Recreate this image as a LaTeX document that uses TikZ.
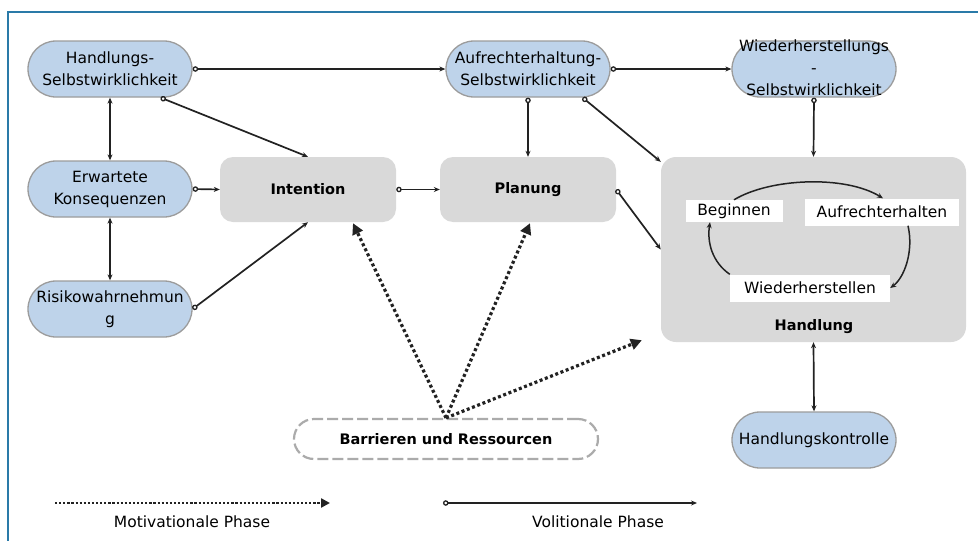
\documentclass[tikz,border=0pt]{standalone}
\usepackage{fontspec}
\setmainfont{DejaVu Sans}
\usetikzlibrary{arrows.meta,calc}
\definecolor{bluefill}{HTML}{BED3EA}
\definecolor{bordgray}{HTML}{9C9C9C}
\definecolor{boxgray}{HTML}{D9D9D9}
\definecolor{dashgray}{HTML}{ABABAB}
\definecolor{linec}{HTML}{222222}
\definecolor{framec}{HTML}{2A7AA8}
\newcommand{\mfs}{\fontsize{15.5}{22}\selectfont}
\newcommand{\mbf}{\fontsize{14.5}{20}\selectfont\bfseries}
\begin{document}
\begin{tikzpicture}[x=1pt,y=-1pt,
  bluebox/.style={draw=bordgray, line width=1.3pt, fill=bluefill, rounded corners=28pt,
    minimum width=164pt, minimum height=56pt, inner sep=0pt, align=center, font=\mfs},
  graybox/.style={fill=boxgray, rounded corners=13pt, minimum width=176pt,
    minimum height=65pt, inner sep=0pt, font=\mbf},
  whitelab/.style={fill=white, inner sep=0pt, font=\mfs},
  conn/.style={draw=linec, line width=1.7pt,
    {Circle[open,length=5.5pt,width=5.5pt,line width=1.3pt]}-{Stealth[length=6pt,width=5pt]}},
  biconn/.style={draw=linec, line width=1.7pt,
    {Stealth[length=6pt,width=5pt]}-{Stealth[length=6pt,width=5pt]}},
  cyc/.style={draw=linec, line width=1.5pt, -{Stealth[length=6pt,width=5pt]}},
  dotconn/.style={draw=linec, line width=3.2pt, dash pattern=on 3pt off 2.6pt,
    -{Triangle[length=11pt,width=11pt]}}
]
\useasboundingbox (0,0) rectangle (978,541);
\fill[white] (0,0) rectangle (978,541);
\draw[framec, line width=1.5pt] (8,541) -- (8,12) -- (978,12);

% blue nodes
\node[bluebox] (hs) at (110,69) {Handlungs-\\Selbstwirklichkeit};
\node[bluebox] (ek) at (110,189) {Erwartete\\Konsequenzen};
\node[bluebox] (rw) at (110,309) {Risikowahrnehmun\\g};
\node[bluebox] (as) at (528,69) {Aufrechterhaltung-\\Selbstwirklichkeit};
\node[bluebox] (ws) at (814,69) {};
\node[align=center, font=\mfs, inner sep=0pt] (wstext) at (814,68) {Wiederherstellungs\\-\\Selbstwirklichkeit};
\node[bluebox] (hk) at (814,440) {Handlungskontrolle};

% gray nodes
\node[graybox] (int) at (308,189.5) {Intention};
\node[graybox] (plan) at (528,189.5) {Planung};
\node[fill=boxgray, rounded corners=15pt, minimum width=305pt, minimum height=185pt, inner sep=0pt] (hand) at (813.5,249.5) {};
\node[font=\mbf, inner sep=0pt] (handlab) at (814,327) {Handlung};

% cycle labels
\node[whitelab, minimum width=97pt, minimum height=22pt] (beg) at (734,211) {Beginnen};
\node[whitelab, minimum width=154pt, minimum height=27pt] (auf) at (882,212) {Aufrechterhalten};
\node[whitelab, minimum width=160pt, minimum height=27pt] (wie) at (810,288) {Wiederherstellen};

% barrier node
\node[draw=dashgray, line width=2.2pt, dash pattern=on 11pt off 4pt, rounded corners=20pt,
  minimum width=304pt, minimum height=40pt, inner sep=0pt, font=\mbf] (bar) at (446,439) {Barrieren und Ressourcen};

% solid connectors
\draw[conn] (hs.east) -- (as.west);
\draw[conn] (as.east) -- (ws.west);
\draw[conn] ([xshift=-32pt]hs.south east) -- (int.north);
\draw[biconn] (hs.south) -- (ek.north);
\draw[biconn] (ek.south) -- (rw.north);
\draw[conn] (ek.east) -- (int.west);
\draw[conn] (rw.east) -- (int.south);
\draw[conn] (int.east) -- (plan.west);
\draw[conn] (as.south) -- (plan.north);
\draw[conn] ([xshift=-28pt]as.south east) -- ([yshift=-5pt]hand.north west);
\draw[conn] (plan.east) -- (hand.west);
\draw[conn] (ws.south) -- (hand.north);
\draw[biconn] (hand.south) -- (hk.north);

% cycle
\draw[cyc] (beg.north) .. controls (770,178) and (845,175) .. ([xshift=1pt]auf.north);
\draw[cyc] ([xshift=26pt]auf.south) .. controls (914,252) and (904,278) .. (wie.east);
\draw[cyc] (wie.north west) .. controls (712,262) and (707,242) .. ([xshift=-24pt]beg.south);

% dotted connectors
\draw[dotconn] (bar.north) -- ([xshift=45pt,yshift=-1pt]int.south);
\draw[dotconn] (bar.north) -- ([xshift=2pt,yshift=-1pt]plan.south);
\draw[dotconn] (bar.north) -- ([xshift=-19pt,yshift=2pt]hand.south west);

% legend
\coordinate (m1) at (55,503);
\coordinate (m2) at (330,503);
\coordinate (v1) at (443,503);
\coordinate (v2) at (697,503);
\draw[draw=linec, line width=2.4pt, dash pattern=on 2.2pt off 1.9pt,
  -{Triangle[length=9pt,width=9pt]}] (m1) -- (m2);
\draw[conn] (v1) -- (v2);
\node[font=\mfs, inner sep=0pt] (mlab) at (192,522) {Motivationale Phase};
\node[font=\mfs, inner sep=0pt] (vlab) at (598,522) {Volitionale Phase};
\end{tikzpicture}
\end{document}
